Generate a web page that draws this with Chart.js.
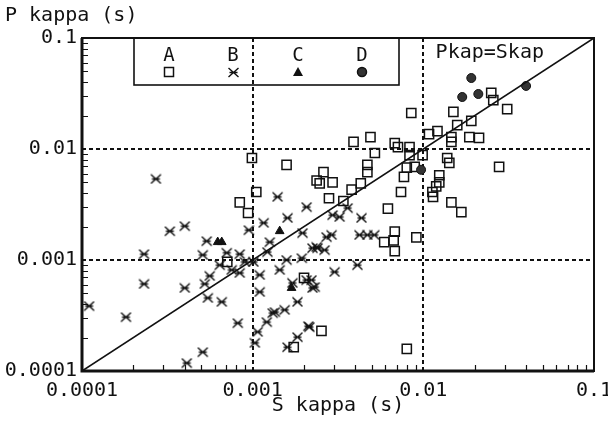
<!DOCTYPE html>
<html>
<head>
<meta charset="utf-8">
<script src="https://cdn.jsdelivr.net/npm/chart.js@4.4.0/dist/chart.umd.min.js"></script>
<style>
  html, body { margin: 0; padding: 0; background: #fff; }
  #wrap { width: 608px; height: 426px; }
</style>
</head>
<body>
<div id="wrap"><canvas id="kappaChart" width="608" height="426"></canvas></div>
<script>
// S kappa (x) and P kappa (y), in seconds, for the four groups
var aS = [0.00099, 0.00158, 0.00105, 0.00084, 0.00094, 0.00237, 0.00247, 0.0026, 0.00294, 0.0028,
          0.0038, 0.0043, 0.0034, 0.0062, 0.0074, 0.0077, 0.0080, 0.0047, 0.0047, 0.0068,
          0.0067, 0.0068, 0.0059, 0.0091, 0.0113, 0.0119, 0.0124, 0.0124, 0.0146, 0.0167,
          0.0278, 0.0099, 0.0083, 0.0052, 0.0083, 0.0071, 0.0068, 0.0049, 0.0039, 0.0085,
          0.0150, 0.0108, 0.0121, 0.0146, 0.0146, 0.0186, 0.0212, 0.0158, 0.0191, 0.0250,
          0.0257, 0.0310, 0.0138, 0.0142, 0.0020, 0.00253, 0.00174, 0.0080, 0.00071, 0.0114,
          0.0089];
var aP = [0.0083, 0.0072, 0.0041, 0.0033, 0.00265, 0.0052, 0.0049, 0.0062, 0.0050, 0.0036,
          0.0043, 0.0049, 0.0034, 0.0029, 0.0041, 0.0056, 0.0068, 0.0072, 0.0062, 0.0018,
          0.0015, 0.0012, 0.00145, 0.0016, 0.0041, 0.0046, 0.0058, 0.0050, 0.0033, 0.0027,
          0.0069, 0.0088, 0.0088, 0.0092, 0.0104, 0.0104, 0.0113, 0.0128, 0.0116, 0.0211,
          0.0216, 0.0136, 0.0145, 0.0128, 0.0116, 0.0128, 0.0126, 0.0164, 0.0179, 0.0320,
          0.0276, 0.0229, 0.0083, 0.0075, 0.00069, 0.00023, 0.000164, 0.000158, 0.00096, 0.0037,
          0.0069];

var bS = [0.00011, 0.000181, 0.000271, 0.000231, 0.000231, 0.000327, 0.0004, 0.0004, 0.00051, 0.000538,
          0.00056, 0.000524, 0.000546, 0.000659, 0.000705, 0.000818, 0.00051, 0.000411, 0.00095, 0.00116,
          0.0014, 0.0016, 0.00207, 0.00126, 0.00122, 0.0011, 0.0011, 0.00131, 0.00121, 0.00107,
          0.00103, 0.0016, 0.00183, 0.00212, 0.00183, 0.00171, 0.00231, 0.00221, 0.00196, 0.00237,
          0.00271, 0.00194, 0.00158, 0.00144, 0.00084, 0.00154, 0.00135, 0.00294, 0.00323, 0.0036,
          0.00434, 0.00423, 0.0047, 0.00516, 0.0029, 0.00224, 0.00264, 0.0024, 0.00302, 0.00411,
          0.00207, 0.00224, 0.00215, 0.00101, 0.00084, 0.0009, 0.000754, 0.000641];
var bP = [0.000385, 0.000306, 0.00537, 0.00113, 0.000608, 0.00182, 0.00202, 0.00056, 0.00111, 0.00148,
          0.000718, 0.000608, 0.000455, 0.000419, 0.00116, 0.00027, 0.000148, 0.000118, 0.00186, 0.00216,
          0.0037, 0.00239, 0.003, 0.00145, 0.00118, 0.000733, 0.000515, 0.000333, 0.000276, 0.000225,
          0.000179, 0.000164, 0.000202, 0.000254, 0.000419, 0.000621, 0.000571, 0.00066, 0.00175, 0.00131,
          0.00161, 0.00104, 0.001, 0.000813, 0.000764, 0.000355, 0.00034, 0.00254, 0.00244, 0.00294,
          0.00239, 0.00168, 0.00168, 0.00168, 0.00168, 0.00128, 0.00123, 0.00128, 0.00078, 0.0009,
          0.00066, 0.00056, 0.000249, 0.00096, 0.00113, 0.00096, 0.000813, 0.0009];

var cS = [0.000624, 0.000659, 0.00144, 0.00169];
var cP = [0.00145, 0.00145, 0.00182, 0.00056];

var dS = [0.0191, 0.0169, 0.0210, 0.0400, 0.0097];
var dP = [0.0436, 0.0294, 0.0313, 0.0370, 0.0065];

var groupNames = ["A", "B", "C", "D"];
var decades = [0.0001, 0.001, 0.01, 0.1];
var decadeText = ["0.0001", "0.001", "0.01", "0.1"];

var ink = "#111";
var fontName = "'DejaVu Sans Mono', monospace";

function zip(xs, ys) {
    var out = [];
    for (var i = 0; i < xs.length; i++) out.push({ x: xs[i], y: ys[i] });
    return out;
}

// asterisk-like marker: an X with a bar through it
var starMark = document.createElement("canvas");
starMark.width = 13;
starMark.height = 11;
(function () {
    var c = starMark.getContext("2d");
    c.strokeStyle = ink;
    c.lineWidth = 1.4;
    c.beginPath();
    c.moveTo(1.5, 1); c.lineTo(11.5, 10);
    c.moveTo(11.5, 1); c.lineTo(1.5, 10);
    c.moveTo(2.5, 5.5); c.lineTo(10.5, 5.5);
    c.stroke();
})();

function tickLabel(v) {
    for (var i = 0; i < decades.length; i++) {
        if (Math.abs(Math.log10(v) - Math.log10(decades[i])) < 1e-6) return decadeText[i];
    }
    return "";
}

var decor = {
    id: "decor",
    beforeDatasetsDraw: function (chart) {
        var ctx = chart.ctx, a = chart.chartArea;
        var xs = chart.scales.x, ys = chart.scales.y;
        ctx.save();
        ctx.strokeStyle = ink;
        ctx.lineWidth = 2;
        ctx.setLineDash([4, 3]);
        [0.001, 0.01].forEach(function (v) {
            var px = Math.round(xs.getPixelForValue(v));
            var py = Math.round(ys.getPixelForValue(v));
            ctx.beginPath();
            ctx.moveTo(px, a.top); ctx.lineTo(px, a.bottom);
            ctx.moveTo(a.left, py); ctx.lineTo(a.right, py);
            ctx.stroke();
        });
        ctx.restore();
    },
    afterDraw: function (chart) {
        var ctx = chart.ctx, a = chart.chartArea;
        var xs = chart.scales.x, ys = chart.scales.y;
        ctx.save();
        // frame
        ctx.strokeStyle = ink;
        ctx.lineWidth = 2;
        ctx.strokeRect(a.left, a.top, a.right - a.left, a.bottom - a.top);
        ctx.lineWidth = 3;
        ctx.beginPath();
        ctx.moveTo(a.left, a.top); ctx.lineTo(a.left, a.bottom); ctx.lineTo(a.right, a.bottom);
        ctx.stroke();
        // inward minor ticks
        ctx.lineWidth = 1.2;
        ctx.beginPath();
        for (var d = 0; d < decades.length - 1; d++) {
            for (var m = 2; m <= 9; m++) {
                var v = decades[d] * m;
                var px = Math.round(xs.getPixelForValue(v)) + 0.5;
                var py = Math.round(ys.getPixelForValue(v)) + 0.5;
                ctx.moveTo(px, a.bottom); ctx.lineTo(px, a.bottom - 6);
                ctx.moveTo(a.left, py); ctx.lineTo(a.left + 6, py);
            }
        }
        ctx.stroke();

        // legend box
        var bx = a.left + 52, by = a.top, bw = 265, bh = 47;
        ctx.lineWidth = 1.6;
        ctx.strokeRect(bx, by, bw, bh);
        ctx.fillStyle = ink;
        ctx.font = "19px " + fontName;
        ctx.textAlign = "center";
        ctx.textBaseline = "middle";
        var cx = [bx + 35, bx + 99, bx + 164, bx + 228];
        var my = by + 34;
        for (var i = 0; i < groupNames.length; i++) {
            ctx.fillText(groupNames[i], cx[i], by + 18);
        }
        ctx.lineWidth = 1.5;
        ctx.strokeRect(cx[0] - 4.5, my - 4.5, 9, 9);
        ctx.drawImage(starMark, cx[1] - 6, my - 5);
        ctx.beginPath();
        ctx.moveTo(cx[2], my - 5); ctx.lineTo(cx[2] + 5, my + 4); ctx.lineTo(cx[2] - 5, my + 4);
        ctx.closePath();
        ctx.fill();
        ctx.fillStyle = "#333";
        ctx.beginPath();
        ctx.arc(cx[3], my, 4.5, 0, Math.PI * 2);
        ctx.fill();
        ctx.stroke();

        // 1:1 line label
        ctx.fillStyle = ink;
        ctx.font = "20px " + fontName;
        ctx.textAlign = "left";
        ctx.fillText("Pkap=Skap", xs.getPixelForValue(0.0118), ys.getPixelForValue(0.073));
        ctx.restore();
    }
};

Chart.defaults.font.family = fontName;
Chart.defaults.font.size = 20;
Chart.defaults.color = ink;

var ctx = document.getElementById("kappaChart");
var chart = new Chart(ctx, {
    type: "scatter",
    data: {
        datasets: [
            {
                type: "line",
                label: "Pkap=Skap",
                data: [{ x: 0.0001, y: 0.0001 }, { x: 0.1, y: 0.1 }],
                borderColor: ink,
                borderWidth: 1.6,
                pointRadius: 0,
                fill: false
            },
            {
                label: "D",
                data: zip(dS, dP),
                pointStyle: "circle",
                pointRadius: 4.5,
                backgroundColor: "#333",
                borderColor: ink,
                borderWidth: 1
            },
            {
                label: "C",
                data: zip(cS, cP),
                pointStyle: "triangle",
                pointRadius: 5,
                backgroundColor: ink,
                borderColor: ink,
                borderWidth: 1
            },
            {
                label: "B",
                data: zip(bS, bP),
                pointStyle: starMark
            },
            {
                label: "A",
                data: zip(aS, aP),
                pointStyle: "rect",
                pointRadius: 6.5,
                backgroundColor: "rgba(255,255,255,0)",
                borderColor: ink,
                borderWidth: 1.5
            }
        ]
    },
    options: {
        responsive: false,
        animation: false,
        layout: { padding: { left: 5, right: 14, top: 0, bottom: 0 } },
        plugins: {
            legend: { display: false },
            tooltip: { enabled: false },
            title: {
                display: true,
                text: "P kappa (s)",
                align: "start",
                color: ink,
                font: { size: 20, weight: "normal" },
                padding: { top: 4, bottom: 10 }
            }
        },
        scales: {
            x: {
                type: "logarithmic",
                min: 0.0001,
                max: 0.1,
                grid: { display: false, drawTicks: false },
                border: { display: false },
                ticks: {
                    autoSkip: false,
                    maxRotation: 0,
                    padding: 10,
                    font: { size: 20, lineHeight: 1 },
                    callback: function (v) { return tickLabel(v); }
                },
                title: {
                    display: true,
                    text: "S kappa (s)",
                    font: { size: 20, lineHeight: 1.2 },
                    padding: { top: 0, bottom: 8 }
                },
                afterFit: function (s) {
                    s.height = 55;
                    s.paddingLeft = 0;
                    s.paddingRight = 0;
                }
            },
            y: {
                type: "logarithmic",
                min: 0.0001,
                max: 0.1,
                grid: { display: false, drawTicks: false },
                border: { display: false },
                ticks: {
                    autoSkip: false,
                    padding: 5,
                    font: { size: 20, lineHeight: 1 },
                    callback: function (v) { return tickLabel(v); }
                },
                afterFit: function (s) {
                    s.width = 77;
                    s.paddingTop = 0;
                    s.paddingBottom = 0;
                }
            }
        }
    },
    plugins: [decor]
});
</script>
</body>
</html>
